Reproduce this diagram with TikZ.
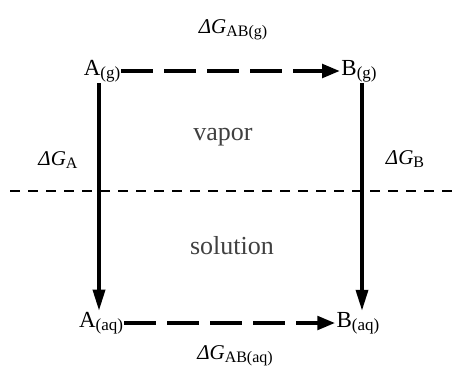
\documentclass[tikz,border=0pt]{standalone}
\usepackage{fontspec}
\setmainfont{Liberation Serif}
\usetikzlibrary{arrows.meta,positioning}
\newcommand{\lowsub}[2]{\raisebox{-.32ex}{\fontsize{#1}{#1}\selectfont #2}}
\newcommand{\spc}[2]{#1\lowsub{17}{#2}}
\newcommand{\dG}[1]{{\itshape ΔG}\lowsub{16}{#1}}
\tikzset{species/.style={inner sep=1pt,text=black,font=\fontsize{23}{26}\selectfont},
 energy/.style={inner sep=1pt,text=black,font=\fontsize{21}{24}\selectfont},
 phase/.style={inner sep=1pt,text=black!75,font=\fontsize{26}{29}\selectfont},
 process/.style={line width=4.5pt,dash pattern=on 32pt off 11pt,
  -{Triangle[length=18pt,width=13pt]}},
 solvation/.style={line width=3.5pt,-{Triangle[length=21pt,width=12pt]}},
 boundary/.style={line width=1.4pt,dash pattern=on 10pt off 8pt}}

\begin{document}
\begin{tikzpicture}[x=1pt,y=-1pt]
 \useasboundingbox (0,0) rectangle (452,370);
 % species at the four corners
 \node[species] (Ag) at (102,71) {\spc{A}{(g)}};
 \node[species] (Bg) at (359,71) {\spc{B}{(g)}};
 \node[species] (Aaq) at (101,323) {\spc{A}{(aq)}};
 \node[species] (Baq) at (358,323) {\spc{B}{(aq)}};
 % energy labels
 \node[energy] (gab) at (233,30) {\dG{AB(g)}};
 \node[energy] (gaq) at (235,356) {\dG{AB(aq)}};
 \node[energy] (ga) at (58,160) {\dG{A}};
 \node[energy] (gb) at (405,159) {\dG{B}};
 % phases
 \node[phase] (vap) at (223,137) {vapor};
 \node[phase] (sol) at (232,246) {solution};
 \coordinate (l) at (10,191);
 \coordinate (r) at (452,191);
 \draw[boundary] (l) -- (r);
 \draw[solvation] ([xshift=-3pt]Ag.south) -- ([xshift=-2pt]Aaq.north);
 \draw[solvation] ([xshift=3pt]Bg.south) -- ([xshift=4pt]Baq.north);
 \draw[process] (Ag) -- (Bg);
 \draw[process] (Aaq) -- (Baq);
\end{tikzpicture}
\end{document}
